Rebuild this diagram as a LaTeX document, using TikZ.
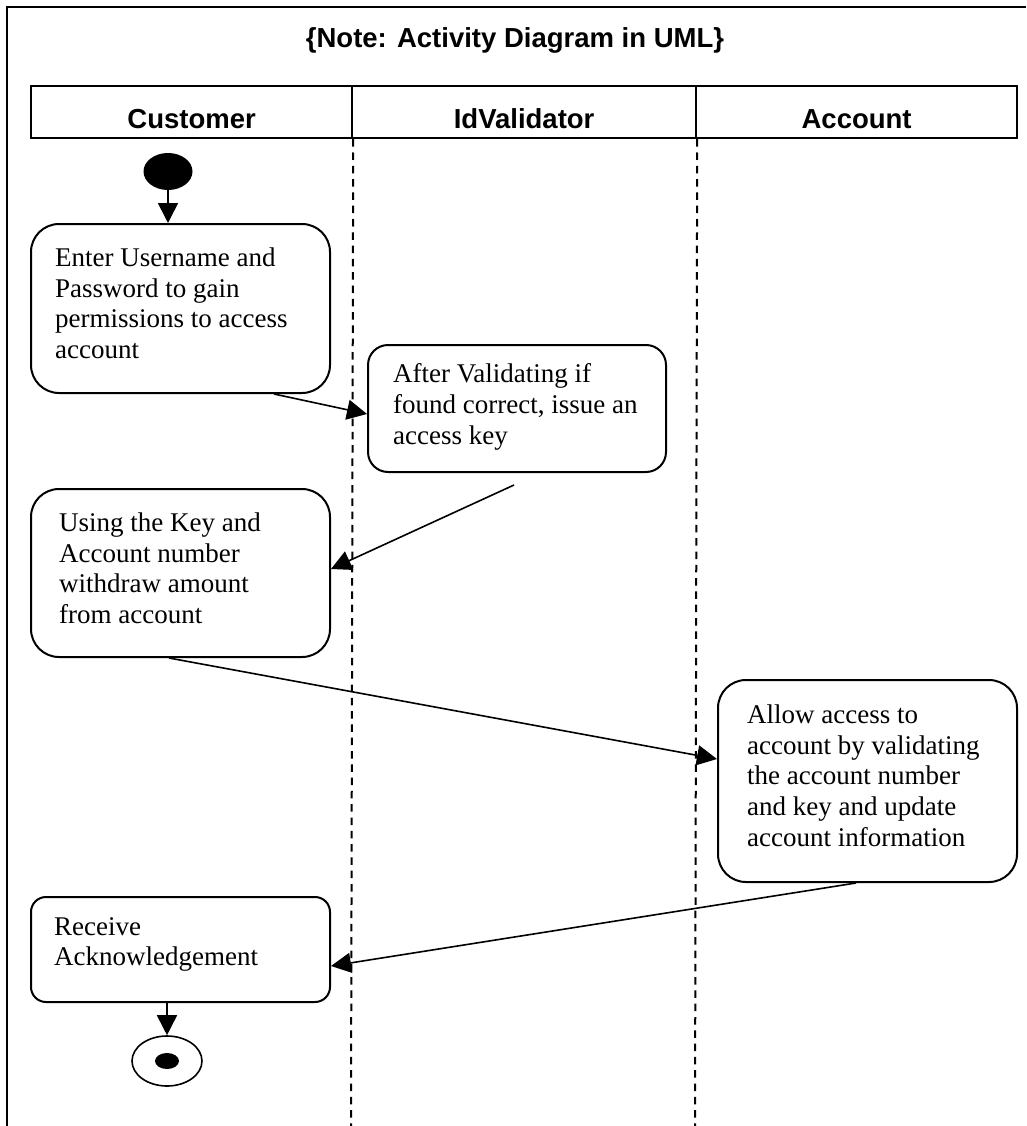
\documentclass[tikz,border=0pt]{standalone}
\usepackage{fontspec}
\setmainfont{Liberation Serif}
\newfontfamily\headfont{Liberation Sans}
\usetikzlibrary{arrows.meta,shapes.geometric,calc}

\begin{document}
\begin{tikzpicture}[x=1pt,y=-1pt,
  frame/.style={line width=2.6pt},
  cell/.style={draw,line width=2.2pt,minimum height=52pt,inner sep=0pt,anchor=north west},
  lane/.style={line width=2pt,dash pattern=on 7.5pt off 5.8pt},
  act/.style={draw,line width=2pt,inner sep=0pt,anchor=north west},
  txt/.style={align=left,inner sep=0pt,anchor=north west,font=\fontsize{27}{30.7}\selectfont},
  hdr/.style={font=\headfont\bfseries\fontsize{27.5}{33}\selectfont,inner sep=0pt,anchor=base},
  flow/.style={line width=1.6pt,-{Triangle[length=20pt,width=20pt]}},
]
\useasboundingbox (0,0) rectangle (1026,1126);

% outer frame (open at the right and at the bottom)
\coordinate (fb) at (7,1126);
\coordinate (fc) at (7,7);
\coordinate (fr) at (1026,7);
\draw[frame] (fb) -- (fc) -- (fr);

% title
\node[hdr] (title) at (515,48) {\{Note: Activity Diagram in UML\}};

% swimlane header cells
\node[cell,minimum width=321pt] (cell1) at (30,85) {};
\node[cell,minimum width=344pt] (cell2) at (351,85) {};
\node[cell,minimum width=321pt] (cell3) at (695,85) {};
\node[hdr] (hcust) at ([yshift=11pt]cell1.south) {Customer};
\node[hdr] (hval)  at ([yshift=11pt]cell2.south) {IdValidator};
\node[hdr] (hacc)  at ([yshift=11pt]cell3.south) {Account};

% lane separators
\coordinate (lane1) at (351,1126);
\coordinate (lane2) at (695,1126);
\draw[lane] (cell1.south east) -- (lane1);
\draw[lane] (cell2.south east) -- (lane2);

% initial node
\node[ellipse,fill=black,minimum width=49pt,minimum height=37pt,inner sep=0pt] (start) at (168,171.5) {};

% activities
\node[act,minimum width=299pt,minimum height=169pt,rounded corners=28pt] (box1) at (30,223) {};
\node[txt] (t1) at (55,247.6) {Enter Username and\\Password to gain\\permissions to access\\account};

\node[act,minimum width=298pt,minimum height=127pt,rounded corners=20pt] (box2) at (367,344) {};
\node[txt] (t2) at (393,363.6) {After Validating if\\found correct, issue an\\access key};

\node[act,minimum width=299pt,minimum height=168pt,rounded corners=28pt] (box3) at (30,488) {};
\node[txt] (t3) at (59,512.6) {Using the Key and\\Account number\\withdraw amount\\from account};

\node[act,minimum width=299pt,minimum height=202pt,rounded corners=28pt] (box4) at (717,679) {};
\node[txt] (t4) at (747,704.6) {Allow access to\\account by validating\\the account number\\and key and update\\account information};

\node[act,minimum width=299pt,minimum height=105pt,rounded corners=15pt] (box5) at (30,896) {};
\node[txt] (t5) at (54,917.1) {Receive\\Acknowledgement};

% final node
\node[ellipse,draw,line width=1.6pt,minimum width=70pt,minimum height=50pt,inner sep=0pt] (finish) at (167,1061) {};
\node[ellipse,fill=black,minimum width=24pt,minimum height=16pt,inner sep=0pt] (finishdot) at (finish.center) {};

% control flows
\draw[flow] (start.south) -- (start.south |- box1.north);
\draw[flow] ([xshift=-57pt]box1.south east) -- ([yshift=-5.5pt]box2.west);
\draw[flow] ([shift={(-153pt,-12pt)}]box2.south east) -- ([yshift=4pt]box3.east);
\draw[flow] ([xshift=-11.5pt]box3.south) -- ([yshift=22pt]box4.west);
\draw[flow] ([xshift=-11.5pt]box4.south) -- ([yshift=-16.5pt]box5.east);
\draw[flow] (finish.north |- box5.south) -- (finish.north);
\end{tikzpicture}
\end{document}
